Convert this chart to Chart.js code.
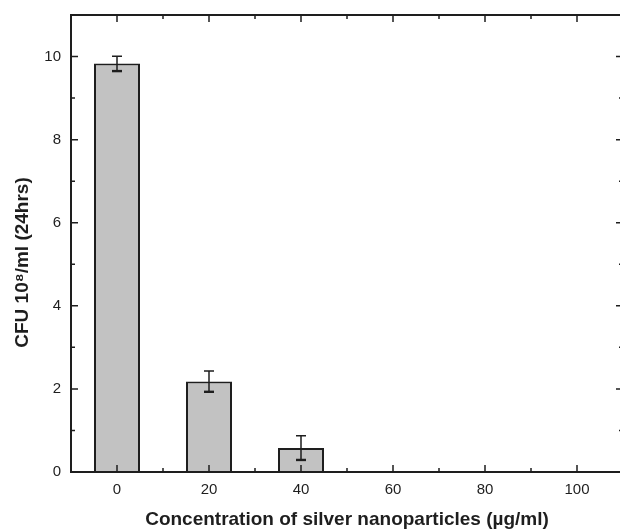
<!DOCTYPE html>
<html>
<head>
<meta charset="utf-8">
<script src="https://cdn.jsdelivr.net/npm/chart.js@4/dist/chart.umd.min.js"></script>
<style>
  html, body { margin: 0; padding: 0; background: #fff; overflow: hidden; }
  #wrap { width: 620px; height: 532px; overflow: hidden; }
</style>
</head>
<body>
<div id="wrap"><canvas id="cfuChart" width="624" height="532"></canvas></div>
<script>
// concentration (ug/ml) and CFU counts
const concentrations = [0, 20, 40, 60, 80, 100];
const cfuValues = [9.83, 2.18, 0.58, 0, 0, 0];
const cfuErrors = [0.18, 0.25, 0.29, 0, 0, 0];
const xTickValues = [0, 20, 40, 60, 80, 100];
const yTickValues = [0, 2, 4, 6, 8, 10];

const ink = '#1e1e1e';

// frame with inward ticks on all four sides, like the original plot
const framePlugin = {
  id: 'frame',
  afterDraw(chart) {
    const { ctx, chartArea: a, scales: { x, y } } = chart;
    ctx.save();
    ctx.strokeStyle = ink;
    ctx.lineWidth = 2;
    ctx.strokeRect(a.left, a.top, a.right - a.left, a.bottom - a.top);
    ctx.lineWidth = 1.5;
    ctx.beginPath();
    xTickValues.forEach(v => {
      const px = x.getPixelForValue(v);
      ctx.moveTo(px, a.bottom); ctx.lineTo(px, a.bottom - 7);
      ctx.moveTo(px, a.top); ctx.lineTo(px, a.top + 7);
      const mx = x.getPixelForValue(v + 10);
      ctx.moveTo(mx, a.bottom); ctx.lineTo(mx, a.bottom - 4);
      ctx.moveTo(mx, a.top); ctx.lineTo(mx, a.top + 4);
    });
    yTickValues.forEach(v => {
      const py = y.getPixelForValue(v);
      ctx.moveTo(a.left, py); ctx.lineTo(a.left + 7, py);
      ctx.moveTo(a.right, py); ctx.lineTo(a.right - 7, py);
      const my = y.getPixelForValue(v + 1);
      ctx.moveTo(a.left, my); ctx.lineTo(a.left + 4, my);
      ctx.moveTo(a.right, my); ctx.lineTo(a.right - 4, my);
    });
    ctx.stroke();
    ctx.restore();
  }
};

const errorBarPlugin = {
  id: 'errorBars',
  afterDatasetsDraw(chart) {
    const { ctx, scales: { x, y } } = chart;
    ctx.save();
    ctx.strokeStyle = ink;
    concentrations.forEach((c, i) => {
      if (!cfuErrors[i]) return;
      const px = x.getPixelForValue(c);
      const top = y.getPixelForValue(cfuValues[i] + cfuErrors[i]);
      const bot = y.getPixelForValue(cfuValues[i] - cfuErrors[i]);
      ctx.lineWidth = 1.5;
      ctx.beginPath();
      ctx.moveTo(px, top); ctx.lineTo(px, bot);
      ctx.moveTo(px - 5, top); ctx.lineTo(px + 5, top);
      ctx.stroke();
      ctx.lineWidth = 2.4;
      ctx.beginPath();
      ctx.moveTo(px - 5, bot); ctx.lineTo(px + 5, bot);
      ctx.stroke();
    });
    ctx.restore();
  }
};

new Chart(document.getElementById('cfuChart'), {
  type: 'bar',
  data: {
    datasets: [{
      data: concentrations.map((c, i) => ({ x: c, y: cfuValues[i] })),
      backgroundColor: '#c2c2c2',
      borderColor: ink,
      borderWidth: 2,
      barPercentage: 0.5,
      categoryPercentage: 1
    }]
  },
  options: {
    responsive: false,
    animation: false,
    layout: { padding: { top: 15, right: 1, left: 0, bottom: 0 } },
    plugins: { legend: { display: false }, tooltip: { enabled: false } },
    scales: {
      x: {
        type: 'linear',
        offset: false,
        min: -10,
        max: 110,
        grid: { display: false },
        border: { display: false },
        afterBuildTicks: s => { s.ticks = xTickValues.map(v => ({ value: v })); },
        afterFit: s => { s.height = 60; },
        ticks: { color: ink, padding: 1, font: { family: 'Liberation Sans', size: 15 } },
        title: {
          display: true,
          text: 'Concentration of silver nanoparticles (\u00b5g/ml)',
          color: ink,
          padding: { top: 0, bottom: 1 },
          font: { family: 'Liberation Sans', size: 19, weight: 'bold' }
        }
      },
      y: {
        min: 0,
        max: 11,
        grid: { display: false },
        border: { display: false },
        afterBuildTicks: s => { s.ticks = yTickValues.map(v => ({ value: v })); },
        afterFit: s => { s.width = 71; },
        ticks: { color: ink, padding: 2, font: { family: 'Liberation Sans', size: 15 } },
        title: {
          display: true,
          text: 'CFU 10\u2078/ml (24hrs)\u2002\u2002\u2002\u2002',
          color: ink,
          padding: { top: 11, bottom: 0 },
          font: { family: 'Liberation Sans', size: 19, weight: 'bold' }
        }
      }
    }
  },
  plugins: [framePlugin, errorBarPlugin]
});
</script>
</body>
</html>
